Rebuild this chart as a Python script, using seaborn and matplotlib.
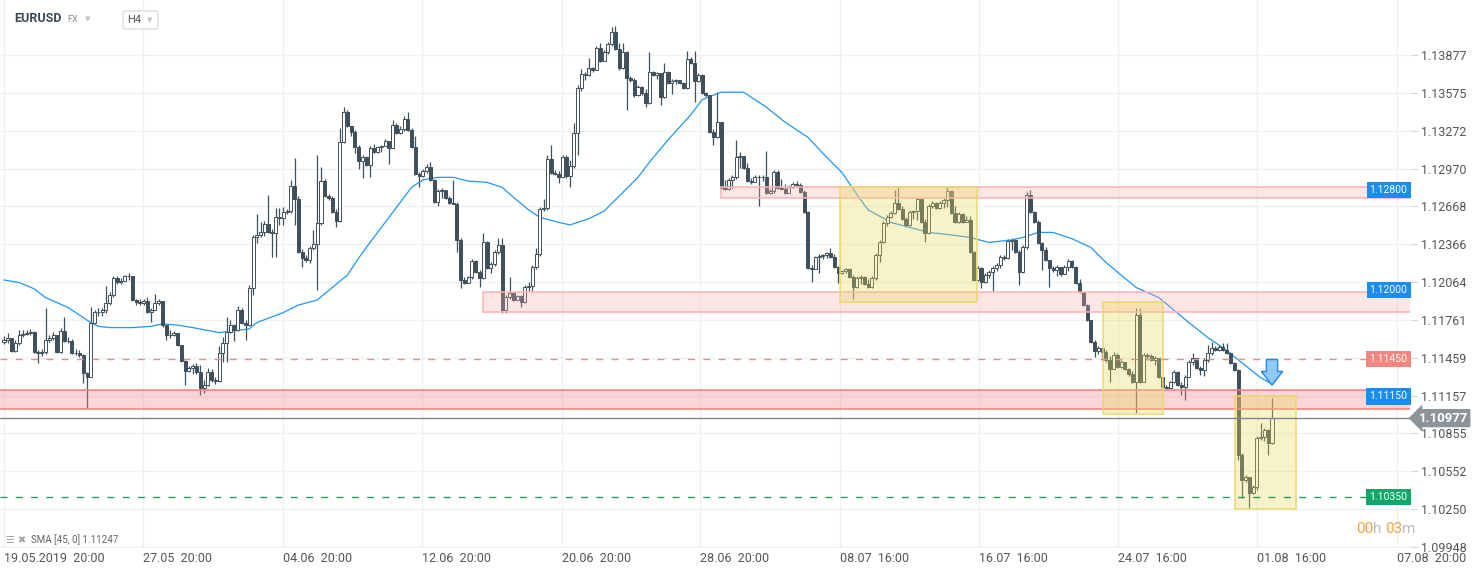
import numpy as np
import pandas as pd
import seaborn as sns
import matplotlib.pyplot as plt
from matplotlib.patches import Rectangle, FancyBboxPatch
import matplotlib.transforms as mtransforms

# EURUSD H4 candles
first_open = 1.11584
closes = [
    1.11600, 1.11616, 1.11512, 1.11576, 1.11640, 1.11648, 1.11656, 1.11664,
    1.11504, 1.11496, 1.11504, 1.11600, 1.11616, 1.11640, 1.11504, 1.11672,
    1.11592, 1.11592, 1.11496, 1.11496, 1.11480, 1.11336, 1.11304, 1.11736,
    1.11824, 1.11824, 1.11840, 1.11896, 1.11960, 1.12096, 1.12064, 1.12072,
    1.12112, 1.12112, 1.11920, 1.11904, 1.11896, 1.11912, 1.11824, 1.11840,
    1.11896, 1.11912, 1.11720, 1.11640, 1.11640, 1.11656, 1.11560, 1.11432,
    1.11352, 1.11376,
    1.11392, 1.11344, 1.11216, 1.11240, 1.11344, 1.11280, 1.11272, 1.11496,
    1.11576, 1.11664, 1.11720, 1.11680, 1.11840, 1.11736, 1.11720, 1.12016,
    1.12424, 1.12440, 1.12464, 1.12528, 1.12464, 1.12456, 1.12584, 1.12576,
    1.12624, 1.12632, 1.12832, 1.12728, 1.12304, 1.12256, 1.12240, 1.12336,
    1.12368, 1.12536, 1.12872, 1.12752, 1.12736, 1.12624, 1.12552, 1.13184,
    1.13424, 1.13312, 1.13264, 1.13144, 1.13032, 1.13064, 1.13000, 1.13136,
    1.13104, 1.13144, 1.13150,
    1.13192, 1.13136, 1.13320, 1.13256, 1.13288, 1.13368, 1.13280, 1.13144,
    1.12928, 1.12912, 1.12952, 1.12984, 1.12880, 1.12704, 1.12792, 1.12800,
    1.12736, 1.12696, 1.12690, 1.12400, 1.12080, 1.12056, 1.12104, 1.12232,
    1.12144, 1.12096, 1.12384, 1.12176, 1.12208, 1.12304, 1.12360, 1.11840,
    1.11944, 1.11976, 1.11920, 1.11952, 1.11904, 1.12024, 1.12030, 1.12184,
    1.12288, 1.12648, 1.12656, 1.13048, 1.12936, 1.12930,
    1.12904, 1.13064, 1.12912, 1.12992, 1.13256, 1.13616, 1.13728, 1.13720,
    1.13776, 1.13760, 1.13936, 1.13832, 1.13904, 1.13968, 1.14064, 1.13928,
    1.13776, 1.13904, 1.13696, 1.13680, 1.13560, 1.13624, 1.13576, 1.13496,
    1.13744, 1.13720, 1.13736, 1.13544, 1.13744, 1.13656, 1.13672, 1.13680,
    1.13656, 1.13616, 1.13848, 1.13816, 1.13672, 1.13720, 1.13576, 1.13560,
    1.13264, 1.13224, 1.13344, 1.12816, 1.12810, 1.12880, 1.12904, 1.13064,
    1.13070, 1.12976, 1.12872, 1.12866, 1.12904, 1.12900, 1.12904, 1.12776,
    1.12792, 1.12944, 1.12816, 1.12810, 1.12776, 1.12824, 1.12848, 1.12840,
    1.12784, 1.12624, 1.12176, 1.12170, 1.12264, 1.12272, 1.12280, 1.12296,
    1.12264, 1.12184, 1.12136, 1.12152, 1.12168, 1.12104, 1.12024, 1.12096,
    1.12104, 1.12048, 1.12024, 1.12096,
    1.12280, 1.12384, 1.12536, 1.12584, 1.12616, 1.12696, 1.12648, 1.12568,
    1.12520, 1.12624, 1.12630, 1.12728, 1.12544, 1.12456, 1.12672, 1.12696,
    1.12656, 1.12696, 1.12720, 1.12792, 1.12616, 1.12544, 1.12608, 1.12544,
    1.12560, 1.12304, 1.12080, 1.12176, 1.12064, 1.12120, 1.12144, 1.12176,
    1.12200, 1.12264, 1.12256, 1.12392, 1.12400, 1.12304, 1.12144, 1.12344,
    1.12760, 1.12624, 1.12544, 1.12376,
    1.12320, 1.12240, 1.12176, 1.12160, 1.12184, 1.12128, 1.12184, 1.12232,
    1.12184, 1.12056, 1.11984, 1.11880, 1.11760, 1.11584, 1.11512, 1.11536,
    1.11504, 1.11440, 1.11368, 1.11480, 1.11384, 1.11424, 1.11368, 1.11328,
    1.11264, 1.11800, 1.11264, 1.11480, 1.11475, 1.11440, 1.11456, 1.11304,
    1.11224, 1.11220, 1.11264, 1.11344, 1.11240, 1.11224, 1.11304, 1.11424,
    1.11456, 1.11376, 1.11360, 1.11440, 1.11496, 1.11536, 1.11520, 1.11544,
    1.11520, 1.11496, 1.11416, 1.11360,
    1.10680, 1.10480, 1.10504, 1.10376, 1.10424, 1.10816, 1.10824, 1.10880,
    1.10776, 1.10977,
]
highs = [
    1.11632, 1.11656, 1.11616, 1.11600, 1.11680, 1.11680, 1.11680, 1.11688,
    1.11672, 1.11520, 1.11528, 1.11856, 1.11640, 1.11664, 1.11640, 1.11696,
    1.11784, 1.11624, 1.11608, 1.11528, 1.11520, 1.11488, 1.11344, 1.11864,
    1.11840, 1.11856, 1.11856, 1.12032, 1.11984, 1.12112, 1.12112, 1.12096,
    1.12120, 1.12136, 1.12112, 1.11928, 1.11928, 1.11928, 1.11944, 1.11856,
    1.11968, 1.11928, 1.11912, 1.11720, 1.11680, 1.11672, 1.11656, 1.11560,
    1.11440, 1.11392,
    1.11408, 1.11416, 1.11400, 1.11280, 1.11376, 1.11368, 1.11304, 1.11552,
    1.11624, 1.11784, 1.11760, 1.11728, 1.11872, 1.11856, 1.11760, 1.12040,
    1.12440, 1.12608, 1.12544, 1.12552, 1.12760, 1.12488, 1.12656, 1.12656,
    1.12664, 1.12648, 1.12880, 1.13056, 1.12752, 1.12328, 1.12280, 1.12352,
    1.12480, 1.13080, 1.12984, 1.12888, 1.12768, 1.12752, 1.12648, 1.13296,
    1.13464, 1.13440, 1.13296, 1.13280, 1.13160, 1.13080, 1.13072, 1.13152,
    1.13168, 1.13152, 1.13160,
    1.13208, 1.13192, 1.13360, 1.13336, 1.13312, 1.13392, 1.13424, 1.13296,
    1.13232, 1.12944, 1.12968, 1.13008, 1.13024, 1.12888, 1.12808, 1.12816,
    1.12784, 1.12752, 1.12880, 1.12704, 1.12416, 1.12104, 1.12112, 1.12248,
    1.12240, 1.12160, 1.12456, 1.12392, 1.12224, 1.12320, 1.12416, 1.12416,
    1.11960, 1.12104, 1.11984, 1.11960, 1.11960, 1.12040, 1.12064, 1.12200,
    1.12336, 1.12664, 1.12728, 1.13080, 1.13160, 1.12960,
    1.12952, 1.13080, 1.13080, 1.13040, 1.13336, 1.13640, 1.13768, 1.13744,
    1.13856, 1.13784, 1.13952, 1.13976, 1.13920, 1.13984, 1.14104, 1.14112,
    1.13976, 1.13976, 1.13912, 1.13712, 1.13696, 1.13640, 1.13632, 1.13608,
    1.13904, 1.13752, 1.13744, 1.13712, 1.13816, 1.13752, 1.13688, 1.13688,
    1.13680, 1.13664, 1.13912, 1.13864, 1.13912, 1.13736, 1.13728, 1.13584,
    1.13520, 1.13288, 1.13584, 1.13344, 1.12880, 1.12896, 1.12920, 1.13200,
    1.13104, 1.13064, 1.13016, 1.12896, 1.12920, 1.12920, 1.12920, 1.13112,
    1.12808, 1.12960, 1.12960, 1.12888, 1.12848, 1.12840, 1.12864, 1.12872,
    1.12856, 1.12800, 1.12632, 1.12200, 1.12272, 1.12288, 1.12288, 1.12304,
    1.12336, 1.12288, 1.12192, 1.12160, 1.12176, 1.12176, 1.12120, 1.12112,
    1.12120, 1.12112, 1.12088, 1.12112,
    1.12296, 1.12400, 1.12552, 1.12600, 1.12632, 1.12800, 1.12832, 1.12672,
    1.12584, 1.12640, 1.12640, 1.12744, 1.12736, 1.12568, 1.12688, 1.12712,
    1.12704, 1.12712, 1.12736, 1.12832, 1.12800, 1.12672, 1.12624, 1.12616,
    1.12592, 1.12592, 1.12312, 1.12192, 1.12184, 1.12136, 1.12160, 1.12192,
    1.12216, 1.12280, 1.12280, 1.12408, 1.12416, 1.12408, 1.12320, 1.12360,
    1.12784, 1.12800, 1.12632, 1.12560,
    1.12384, 1.12344, 1.12240, 1.12192, 1.12200, 1.12184, 1.12200, 1.12248,
    1.12240, 1.12192, 1.12088, 1.11984, 1.11888, 1.11760, 1.11600, 1.11552,
    1.11536, 1.11520, 1.11472, 1.11504, 1.11496, 1.11440, 1.11424, 1.11376,
    1.11352, 1.11856, 1.11856, 1.11496, 1.11496, 1.11488, 1.11472, 1.11456,
    1.11304, 1.11240, 1.11272, 1.11360, 1.11352, 1.11264, 1.11320, 1.11440,
    1.11496, 1.11456, 1.11392, 1.11456, 1.11560, 1.11584, 1.11552, 1.11560,
    1.11576, 1.11576, 1.11504, 1.11424,
    1.11368, 1.10696, 1.10520, 1.10440, 1.10440, 1.10832, 1.10936, 1.10896,
    1.10888, 1.11136,
]
lows = [
    1.11568, 1.11576, 1.11504, 1.11504, 1.11560, 1.11624, 1.11640, 1.11640,
    1.11496, 1.11416, 1.11472, 1.11488, 1.11584, 1.11600, 1.11496, 1.11496,
    1.11584, 1.11576, 1.11488, 1.11480, 1.11464, 1.11256, 1.11056, 1.11312,
    1.11744, 1.11792, 1.11792, 1.11816, 1.11880, 1.11944, 1.12048, 1.12048,
    1.12072, 1.12080, 1.11912, 1.11880, 1.11880, 1.11880, 1.11816, 1.11744,
    1.11840, 1.11880, 1.11704, 1.11600, 1.11616, 1.11632, 1.11552, 1.11424,
    1.11240, 1.11344,
    1.11328, 1.11328, 1.11160, 1.11176, 1.11232, 1.11264, 1.11248, 1.11264,
    1.11424, 1.11424, 1.11656, 1.11592, 1.11672, 1.11728, 1.11600, 1.11712,
    1.11960, 1.12376, 1.12424, 1.12432, 1.12456, 1.12264, 1.12264, 1.12520,
    1.12520, 1.12608, 1.12616, 1.12520, 1.12296, 1.12184, 1.12224, 1.12216,
    1.12320, 1.12000, 1.12520, 1.12744, 1.12720, 1.12616, 1.12504, 1.12544,
    1.13176, 1.13304, 1.13232, 1.13096, 1.12968, 1.12896, 1.12992, 1.12904,
    1.13096, 1.13096, 1.13104,
    1.13168, 1.13008, 1.13136, 1.13248, 1.13248, 1.13272, 1.13272, 1.13136,
    1.12920, 1.12824, 1.12904, 1.12936, 1.12872, 1.12696, 1.12672, 1.12736,
    1.12728, 1.12688, 1.12688, 1.12304, 1.12016, 1.12048, 1.12064, 1.12088,
    1.12136, 1.12024, 1.12088, 1.12168, 1.12136, 1.12192, 1.12288, 1.11816,
    1.11816, 1.11928, 1.11912, 1.11920, 1.11864, 1.11896, 1.11992, 1.11992,
    1.12168, 1.12272, 1.12632, 1.12640, 1.12928, 1.12920,
    1.12856, 1.12904, 1.12896, 1.12824, 1.12976, 1.13080, 1.13592, 1.13680,
    1.13712, 1.13744, 1.13760, 1.13824, 1.13840, 1.13888, 1.13952, 1.13920,
    1.13760, 1.13768, 1.13440, 1.13664, 1.13544, 1.13552, 1.13560, 1.13464,
    1.13488, 1.13712, 1.13688, 1.13480, 1.13536, 1.13648, 1.13568, 1.13648,
    1.13648, 1.13608, 1.13608, 1.13808, 1.13504, 1.13664, 1.13568, 1.13544,
    1.13256, 1.13160, 1.13216, 1.12808, 1.12800, 1.12800, 1.12816, 1.12888,
    1.12976, 1.12968, 1.12864, 1.12848, 1.12864, 1.12672, 1.12872, 1.12768,
    1.12768, 1.12776, 1.12808, 1.12800, 1.12768, 1.12776, 1.12816, 1.12824,
    1.12776, 1.12616, 1.12168, 1.12064, 1.12168, 1.12136, 1.12248, 1.12256,
    1.12256, 1.12176, 1.12056, 1.12128, 1.12136, 1.12096, 1.11928, 1.12016,
    1.12048, 1.12040, 1.12016, 1.12016,
    1.12080, 1.12224, 1.12376, 1.12512, 1.12576, 1.12608, 1.12640, 1.12560,
    1.12504, 1.12512, 1.12568, 1.12560, 1.12536, 1.12384, 1.12448, 1.12656,
    1.12648, 1.12648, 1.12656, 1.12664, 1.12608, 1.12536, 1.12536, 1.12536,
    1.12544, 1.12296, 1.12072, 1.12072, 1.12016, 1.12056, 1.12096, 1.11984,
    1.12152, 1.12176, 1.12240, 1.12248, 1.12320, 1.12296, 1.12040, 1.12136,
    1.12328, 1.12616, 1.12536, 1.12368,
    1.12160, 1.12232, 1.12024, 1.12144, 1.12112, 1.12112, 1.12128, 1.12152,
    1.12176, 1.12048, 1.11976, 1.11872, 1.11752, 1.11576, 1.11464, 1.11488,
    1.11440, 1.11424, 1.11264, 1.11416, 1.11376, 1.11376, 1.11360, 1.11312,
    1.11256, 1.11016, 1.11256, 1.11264, 1.11440, 1.11432, 1.11400, 1.11296,
    1.11216, 1.11216, 1.11216, 1.11256, 1.11232, 1.11160, 1.11120, 1.11304,
    1.11400, 1.11368, 1.11320, 1.11312, 1.11424, 1.11480, 1.11512, 1.11512,
    1.11512, 1.11488, 1.11408, 1.11352,
    1.10640, 1.10336, 1.10464, 1.10256, 1.10368, 1.10400, 1.10800, 1.10792,
    1.10680, 1.10768,
]

# SMA(45) line, read at candle positions
sma_idx = [0, 4, 8, 11, 17, 20, 23, 25, 28, 34, 39, 42, 46, 50, 57, 65, 67, 74,
           78, 83, 87, 91, 95, 99, 102, 104, 108, 111, 115, 119, 123, 128, 132,
           135, 139, 142, 147, 150, 155, 159, 168, 171, 176, 182, 185, 190, 196,
           202, 207, 213, 218, 222, 227, 229, 235, 240, 245, 251, 256, 261, 267,
           270, 274, 278, 283, 288, 292, 296, 300, 306, 310, 314, 319, 323, 328,
           333, 336]
sma_val = [1.1208, 1.1206, 1.1201, 1.1194, 1.1186, 1.1180, 1.1174, 1.1171,
           1.1170, 1.1170, 1.1171, 1.1173, 1.1172, 1.1170, 1.1166, 1.1169,
           1.1174, 1.1182, 1.1188, 1.1192, 1.1202, 1.1212, 1.1230, 1.1246,
           1.1258, 1.1266, 1.1282, 1.1288, 1.1290, 1.1290, 1.1287, 1.1286,
           1.1282, 1.1274, 1.1264, 1.1258, 1.1254, 1.1252, 1.1257, 1.1263,
           1.1290, 1.1302, 1.1320, 1.1340, 1.1352, 1.1358, 1.1358, 1.1346,
           1.1334, 1.1322, 1.1306, 1.1294, 1.1272, 1.1264, 1.1254, 1.1250,
           1.1246, 1.1244, 1.1242, 1.1238, 1.1240, 1.1242, 1.1246, 1.1246,
           1.1241, 1.1234, 1.1222, 1.1212, 1.1202, 1.1194, 1.1184, 1.1174,
           1.1162, 1.1154, 1.1142, 1.1130, 1.1125]

ytick_labels = ['1.09948', '1.10250', '1.10552', '1.10855', '1.11157', '1.11459',
                '1.11761', '1.12064', '1.12366', '1.12668', '1.12970', '1.13272',
                '1.13575', '1.13877']
xtick_labels = ['19.05.2019  20:00', '27.05  20:00', '04.06  20:00', '12.06  20:00',
                '20.06  20:00', '28.06  20:00', '08.07  16:00', '16.07  16:00',
                '24.07  16:00', '01.08  16:00', '07.08  20:00']

# support / resistance zones: (low, high, first candle)
zone_lo = [1.12736, 1.11824, 1.11048]
zone_hi = [1.12824, 1.11984, 1.11200]
zone_start = [190, 127, -2]
# highlighted yellow boxes: (first candle, last candle, low, high)
box_x0 = [221.5, 291.2, 326.2]
box_x1 = [257.8, 307.1, 342.4]
box_lo = [1.11904, 1.11008, 1.10248]
box_hi = [1.12824, 1.11904, 1.11152]

level_vals = [1.1280, 1.1200, 1.1145, 1.1115, 1.1035]
level_text = ['1.12800', '1.12000', '1.11450', '1.11150', '1.10350']
level_cols = ['#1a8cf2', '#1a8cf2', '#f4857f', '#1a8cf2', '#10a86a']

W, H = 1482, 574
CANDLE = '#3f505c'

sns.set_style('white')
plt.rcParams['font.family'] = ['Roboto', 'DejaVu Sans']

fig = plt.figure(figsize=(W / 100, H / 100), dpi=100)
ax = fig.add_axes([0, 1 - 548 / H, 1410 / W, 548 / H])

n = min(len(closes), len(highs), len(lows))
c = np.array(closes[:n])
o = np.concatenate([[first_open], c[:-1]])
h = np.maximum(np.array(highs[:n]), np.maximum(o, c))
l = np.minimum(np.array(lows[:n]), np.minimum(o, c))
idx = np.arange(n)
up = c >= o
body_lo = np.minimum(o, c)
body_h = np.maximum(np.abs(c - o), 0.00003)

# pixel layout of the candle axis
step = (1272 - 4) / (n - 1)
xl = (0 - 4) / step
xr = (1410 - 4) / step

ax.vlines(idx, l, h, color=CANDLE, lw=0.9, zorder=2)
ax.bar(idx[up], body_h[up], bottom=body_lo[up], width=0.8, color='white',
       edgecolor=CANDLE, linewidth=0.7, zorder=3)
ax.bar(idx[~up], body_h[~up], bottom=body_lo[~up], width=0.8, color=CANDLE,
       edgecolor=CANDLE, linewidth=0.7, zorder=3)

sma = pd.DataFrame({'i': sma_idx, 'sma': sma_val})
sns.lineplot(data=sma, x='i', y='sma', ax=ax, color='#2196f3', linewidth=0.9, zorder=2.5)

for lo, hi, st, k in zip(zone_lo, zone_hi, zone_start, range(3)):
    strong = k == 2
    ax.add_patch(Rectangle((st, lo), xr - st + 2, hi - lo,
                           facecolor='#f48787' if strong else '#f8acac',
                           alpha=0.35 if strong else 0.3, lw=0, zorder=4))
    ax.add_patch(Rectangle((st, lo), xr - st + 2, hi - lo, fill=False,
                           edgecolor='#f07c7c' if strong else '#f6b3b3',
                           lw=1.1, zorder=4.1))

for a, b, lo, hi in zip(box_x0, box_x1, box_lo, box_hi):
    ax.add_patch(Rectangle((a, lo), b - a, hi - lo, facecolor='#ebda58',
                           alpha=0.33, lw=0, zorder=4.5))
    ax.add_patch(Rectangle((a, lo), b - a, hi - lo, fill=False,
                           edgecolor='#ead76e', lw=1.1, zorder=4.6))

ax.axhline(level_vals[2], color='#ef8a86', lw=1, ls=(0, (5, 6)), zorder=5)
ax.axhline(level_vals[4], color='#2f9a63', lw=1, ls=(0, (5, 6)), zorder=5)
ax.axhline(c[-1], color='#7d868c', lw=1, zorder=5)

# down arrow marker over the last candle
ax.annotate('', xy=(n - 1, 1.1124), xytext=(n - 1, 1.11445),
            arrowprops=dict(arrowstyle='simple,head_length=0.55,head_width=0.85,tail_width=0.45',
                            fc='#8fc9f7', ec='#1f87e5', lw=1.0, mutation_scale=18,
                            shrinkA=0, shrinkB=0), zorder=7)

ax.set_xlim(xl, xr)
ax.set_ylim(1.09940, 1.14316)
ax.set_xlabel('')
ax.set_ylabel('')

yt = [float(s) for s in ytick_labels]
ax.yaxis.tick_right()
ax.set_yticks(yt)
ax.set_yticklabels(ytick_labels)
xt = [(px - 4) / step for px in [4, 143, 283, 422, 562, 700, 840, 979, 1118, 1257, 1397]]
ax.set_xticks(xt)
ax.set_xticklabels(xtick_labels, ha='left')
ax.tick_params(axis='y', length=6, color='#d8d8d8', labelsize=9, labelcolor='#555555', pad=2)
ax.tick_params(axis='x', length=0, labelsize=9, labelcolor='#555555', pad=3)
ax.grid(True, color='#eef0f2', lw=1)
ax.set_axisbelow(True)
for sp in ax.spines.values():
    sp.set_visible(False)

# level tags on the right edge
tr = mtransforms.blended_transform_factory(ax.transAxes, ax.transData)
for v, t, col in zip(level_vals, level_text, level_cols):
    ax.text(0.9848, v, t, transform=tr, ha='center', va='center', color='white',
            fontsize=7.5, zorder=8,
            bbox=dict(boxstyle='square,pad=0.3', fc=col, ec='none'))
ax.text(1.0235, c[-1], '%.5f' % c[-1], transform=tr, ha='center', va='center',
        color='white', fontsize=9.5, fontweight='bold', zorder=8, clip_on=False,
        bbox=dict(boxstyle='larrow,pad=0.2', fc='#8c9499', ec='none'))

# header
fig.text(14 / W, 1 - 19 / H, 'EURUSD', fontsize=9, fontweight='bold', color='#3e4b55', va='center')
fig.text(67 / W, 1 - 20 / H, 'FX', fontsize=6.5, color='#8f8f8f', va='center')
fig.text(85 / W, 1 - 19 / H, '\u25be', fontsize=8, color='#c4c4c4', va='center')
fig.patches.append(FancyBboxPatch((123 / W, 1 - 29 / H), 35 / W, 18 / H,
                                  boxstyle='round,pad=0,rounding_size=0.003',
                                  transform=fig.transFigure, fc='white', ec='#dcdcdc', lw=1))
fig.text(127 / W, 1 - 20 / H, 'H4', fontsize=8, color='#555555', va='center')
fig.text(147 / W, 1 - 20 / H, '\u25be', fontsize=8, color='#c4c4c4', va='center')

# indicator legend bottom left
fig.text(5 / W, 1 - 540 / H, '\u2630', fontsize=7, color='#a0a4a8', va='center')
fig.text(17 / W, 1 - 540 / H, '\u2716', fontsize=7, color='#a0a4a8', va='center')
fig.text(31 / W, 1 - 540 / H, 'SMA [45, 0] 1.11247', fontsize=7, color='#666666', va='center')

# candle countdown
fig.text(1356 / W, 1 - 529 / H, '00', fontsize=11, color='#f7a23b', va='center')
fig.text(1373 / W, 1 - 529 / H, 'h', fontsize=11, color='#bdbdbd', va='center')
fig.text(1385 / W, 1 - 529 / H, '03', fontsize=11, color='#f7a23b', va='center')
fig.text(1402 / W, 1 - 529 / H, 'm', fontsize=11, color='#bdbdbd', va='center')

fig.savefig('out.png', dpi=100, facecolor='white')
